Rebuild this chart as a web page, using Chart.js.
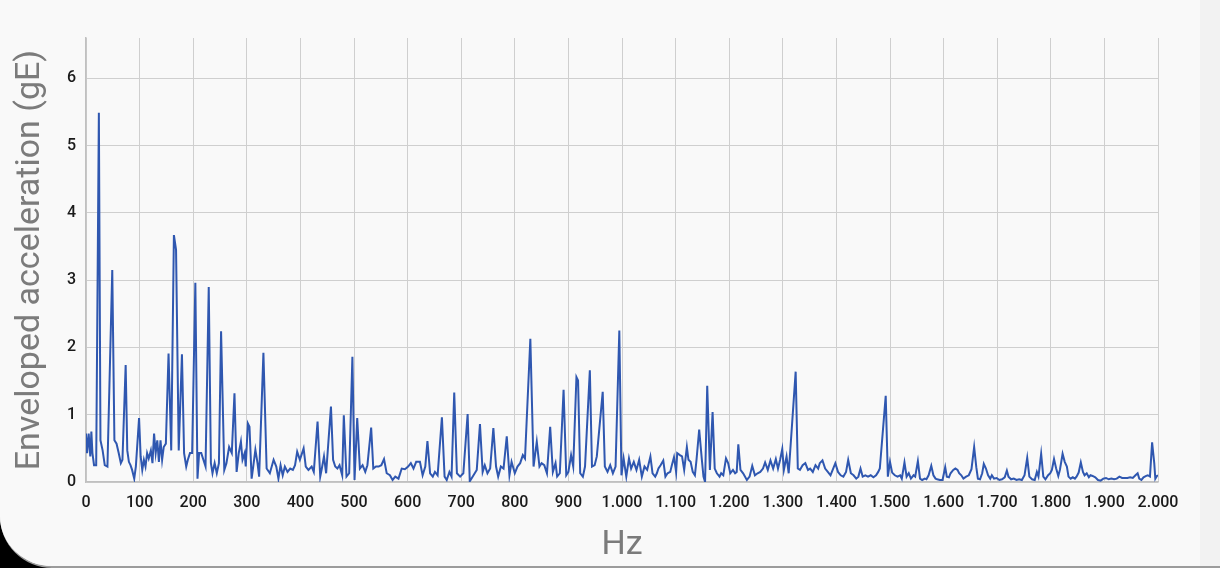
<!DOCTYPE html>
<html>
<head>
<meta charset="utf-8">
<script src="https://cdn.jsdelivr.net/npm/chart.js@4.4.0/dist/chart.umd.min.js"></script>
<style>
  html, body { margin: 0; padding: 0; background: #000; }
  #frame {
    position: relative; width: 1220px; height: 566px;
    background: #f2f2f2; border-bottom: 2px solid #9c9c9c;
    border-bottom-left-radius: 52px; overflow: hidden;
  }
  #card {
    position: absolute; left: 0; top: 0; width: 1200px; height: 566px;
    background: #f9f9f9;
  }
  #chart { position: absolute; left: 0; top: 0; }
</style>
</head>
<body>
<div id="frame">
  <div id="card"></div>
  <canvas id="chart" width="1220" height="566"></canvas>
</div>
<script>
// Envelope spectrum (Hz / gE)
const freqHz = [
  0, 2, 5, 8, 10, 12, 15, 19, 24, 27,
  31, 35, 40, 49, 53, 57, 61, 65, 68, 74,
  77, 80, 83, 86, 90, 93, 99, 102, 105, 108,
  111, 114, 117, 121, 124, 127, 130, 133, 136, 139,
  142, 145, 149, 154, 159, 164, 168, 173, 179, 183,
  187, 190, 194, 198, 204, 208, 211, 215, 219, 223,
  229, 233, 236, 240, 244, 248, 252, 258, 262, 267,
  272, 277, 281, 285, 289, 292, 296, 298, 302, 305,
  309, 312, 316, 320, 323, 331, 337, 343, 350, 355,
  359, 363, 367, 371, 376, 381, 386, 390, 394, 399,
  406, 410, 415, 421, 425, 432, 437, 440, 444, 448,
  457, 461, 465, 469, 473, 478, 481, 486, 491, 497,
  501, 506, 511, 516, 521, 525, 532, 536, 541, 546,
  551, 556, 561, 567, 572, 577, 583, 589, 595, 601,
  606, 611, 616, 623, 628, 633, 637, 642, 647, 651,
  656, 664, 669, 673, 678, 682, 687, 692, 698, 704,
  712, 716, 723, 729, 735, 740, 744, 749, 754, 760,
  765, 769, 774, 779, 785, 790, 794, 800, 805, 810,
  815, 819, 829, 835, 841, 846, 850, 855, 860, 866,
  871, 876, 879, 884, 891, 896, 900, 905, 909, 915,
  918, 922, 927, 931, 940, 944, 949, 953, 964, 968,
  973, 978, 983, 988, 995, 999, 1003, 1008, 1013, 1017,
  1022, 1027, 1032, 1037, 1042, 1047, 1053, 1057, 1062, 1065,
  1068, 1072, 1077, 1081, 1085, 1090, 1093, 1097, 1101, 1103,
  1108, 1112, 1116, 1121, 1124, 1128, 1132, 1136, 1139, 1144,
  1149, 1152, 1155, 1159, 1164, 1169, 1173, 1177, 1182, 1185,
  1189, 1194, 1198, 1202, 1207, 1211, 1214, 1217, 1221, 1226,
  1233, 1238, 1243, 1248, 1253, 1258, 1263, 1267, 1272, 1277,
  1282, 1287, 1291, 1295, 1299, 1302, 1307, 1311, 1324, 1328,
  1332, 1337, 1342, 1347, 1351, 1356, 1361, 1366, 1369, 1374,
  1379, 1384, 1389, 1394, 1398, 1403, 1408, 1413, 1418, 1422,
  1427, 1432, 1437, 1441, 1445, 1449, 1454, 1459, 1464, 1469,
  1474, 1478, 1481, 1492, 1496, 1500, 1504, 1509, 1514, 1519,
  1522, 1527, 1531, 1535, 1539, 1544, 1547, 1552, 1556, 1560,
  1565, 1568, 1572, 1577, 1581, 1585, 1588, 1593, 1598, 1603,
  1606, 1610, 1613, 1618, 1622, 1626, 1629, 1633, 1637, 1642,
  1647, 1652, 1657, 1661, 1664, 1668, 1672, 1675, 1679, 1683,
  1687, 1690, 1694, 1699, 1704, 1709, 1714, 1718, 1721, 1726,
  1731, 1736, 1741, 1746, 1751, 1756, 1760, 1765, 1770, 1774,
  1777, 1782, 1786, 1790, 1795, 1799, 1802, 1806, 1810, 1814,
  1817, 1822, 1826, 1830, 1833, 1837, 1841, 1845, 1848, 1852,
  1856, 1860, 1863, 1867, 1871, 1874, 1878, 1883, 1888, 1893,
  1898, 1903, 1908, 1913, 1918, 1923, 1928, 1933, 1938, 1943,
  1948, 1953, 1958, 1962, 1965, 1969, 1973, 1978, 1981, 1985,
  1989, 1993, 1995, 1998, 2000
];

const accelGE = [
  0.72, 0.43, 0.72, 0.38, 0.75, 0.43, 0.25, 0.25, 5.49, 0.62,
  0.47, 0.25, 0.23, 3.15, 0.62, 0.57, 0.43, 0.28, 0.33, 1.74,
  0.47, 0.30, 0.25, 0.18, 0.05, 0.23, 0.95, 0.38, 0.18, 0.33,
  0.23, 0.43, 0.35, 0.47, 0.28, 0.72, 0.43, 0.62, 0.30, 0.62,
  0.33, 0.52, 0.57, 1.91, 0.47, 3.67, 3.45, 0.47, 1.90, 0.43,
  0.23, 0.33, 0.43, 0.43, 2.96, 0.05, 0.43, 0.43, 0.33, 0.23,
  2.90, 0.28, 0.13, 0.28, 0.13, 0.28, 2.24, 0.18, 0.28, 0.52,
  0.43, 1.32, 0.15, 0.43, 0.60, 0.33, 0.43, 0.23, 0.87, 0.82,
  0.05, 0.23, 0.48, 0.28, 0.08, 1.92, 0.20, 0.13, 0.33, 0.23,
  0.05, 0.25, 0.10, 0.23, 0.15, 0.20, 0.18, 0.25, 0.45, 0.33,
  0.50, 0.23, 0.18, 0.23, 0.15, 0.90, 0.08, 0.20, 0.38, 0.13,
  1.12, 0.33, 0.23, 0.20, 0.25, 0.10, 0.99, 0.08, 0.13, 1.86,
  0.03, 0.95, 0.20, 0.25, 0.15, 0.25, 0.81, 0.20, 0.23, 0.23,
  0.25, 0.34, 0.13, 0.10, 0.03, 0.08, 0.05, 0.20, 0.19, 0.23,
  0.28, 0.20, 0.30, 0.30, 0.10, 0.23, 0.61, 0.13, 0.08, 0.15,
  0.10, 0.96, 0.08, 0.03, 0.15, 0.08, 1.33, 0.13, 0.08, 0.13,
  1.01, 0.01, 0.10, 0.18, 0.86, 0.15, 0.25, 0.13, 0.20, 0.80,
  0.23, 0.08, 0.23, 0.20, 0.68, 0.10, 0.30, 0.13, 0.23, 0.28,
  0.40, 0.35, 2.13, 0.23, 0.60, 0.23, 0.28, 0.25, 0.13, 0.82,
  0.15, 0.28, 0.08, 0.13, 1.37, 0.10, 0.15, 0.40, 0.23, 1.56,
  1.51, 0.13, 0.08, 0.23, 1.66, 0.23, 0.25, 0.38, 1.34, 0.23,
  0.15, 0.25, 0.13, 0.23, 2.25, 0.10, 0.35, 0.08, 0.35, 0.20,
  0.30, 0.18, 0.33, 0.08, 0.23, 0.18, 0.38, 0.13, 0.08, 0.13,
  0.20, 0.25, 0.32, 0.08, 0.13, 0.15, 0.25, 0.37, 0.15, 0.43,
  0.40, 0.38, 0.18, 0.52, 0.33, 0.30, 0.15, 0.10, 0.33, 0.78,
  0.33, 0.08, 0.00, 1.43, 0.18, 1.04, 0.20, 0.13, 0.08, 0.13,
  0.10, 0.35, 0.28, 0.13, 0.18, 0.13, 0.15, 0.56, 0.18, 0.13,
  0.03, 0.08, 0.24, 0.10, 0.13, 0.15, 0.20, 0.29, 0.18, 0.32,
  0.20, 0.34, 0.20, 0.33, 0.49, 0.18, 0.38, 0.13, 1.64, 0.20,
  0.18, 0.25, 0.28, 0.18, 0.20, 0.15, 0.25, 0.20, 0.28, 0.32,
  0.20, 0.15, 0.10, 0.20, 0.28, 0.15, 0.10, 0.08, 0.15, 0.33,
  0.13, 0.10, 0.05, 0.08, 0.20, 0.08, 0.10, 0.08, 0.10, 0.07,
  0.10, 0.15, 0.20, 1.28, 0.08, 0.30, 0.14, 0.10, 0.08, 0.10,
  0.05, 0.29, 0.08, 0.13, 0.05, 0.10, 0.08, 0.31, 0.05, 0.03,
  0.05, 0.04, 0.10, 0.24, 0.10, 0.05, 0.04, 0.03, 0.03, 0.22,
  0.08, 0.07, 0.13, 0.18, 0.20, 0.18, 0.13, 0.10, 0.05, 0.08,
  0.10, 0.19, 0.52, 0.22, 0.05, 0.04, 0.13, 0.27, 0.20, 0.10,
  0.05, 0.10, 0.05, 0.06, 0.03, 0.04, 0.07, 0.17, 0.08, 0.04,
  0.05, 0.03, 0.04, 0.03, 0.10, 0.36, 0.08, 0.04, 0.03, 0.15,
  0.08, 0.42, 0.08, 0.04, 0.10, 0.13, 0.18, 0.34, 0.20, 0.09,
  0.18, 0.42, 0.30, 0.23, 0.08, 0.05, 0.07, 0.05, 0.08, 0.14,
  0.29, 0.15, 0.10, 0.13, 0.07, 0.10, 0.09, 0.07, 0.03, 0.02,
  0.05, 0.06, 0.04, 0.05, 0.04, 0.05, 0.08, 0.06, 0.06, 0.06,
  0.07, 0.06, 0.10, 0.13, 0.05, 0.03, 0.07, 0.09, 0.10, 0.08,
  0.59, 0.28, 0.05, 0.09, 0.10
];

const xTitle = 'Hz';
const yTitle = 'Enveloped acceleration (gE)';

const tickFont = { family: 'Roboto', size: 16, weight: '500' };
const titleFont = { family: 'Roboto', size: 34, weight: '400' };

let ctx = document.getElementById('chart').getContext('2d');

window.spectrum = new Chart(ctx, {
    type: 'line',
    data: {
        datasets: [{
            data: freqHz.map((f, i) => ({ x: f, y: accelGE[i] })),
            borderColor: '#2f57b0',
            borderWidth: 2,
            pointRadius: 0,
            fill: false,
            tension: 0
        }]
    },
    options: {
        responsive: false,
        animation: false,
        locale: 'de-DE',
        layout: { padding: { top: 38, right: 62, bottom: 0, left: 0 } },
        plugins: { legend: { display: false }, tooltip: { enabled: false } },
        scales: {
            x: {
                type: 'linear',
                min: 0,
                max: 2000,
                ticks: { stepSize: 100, color: '#1a1a1a', font: tickFont, padding: 11, maxRotation: 0, autoSkip: false },
                grid: { color: '#cfcfcf', lineWidth: 1, drawTicks: false },
                border: { color: '#c0c0c0', width: 1.5 },
                title: { display: true, text: xTitle, color: '#7b7b7b', font: titleFont, padding: { top: 0, bottom: 0 } },
                afterFit: s => { s.height = 84; }
            },
            y: {
                min: 0,
                max: 6.6,
                ticks: { stepSize: 1, color: '#1a1a1a', font: tickFont, padding: 10 },
                // only the whole numbers get a label and a grid line
                afterBuildTicks: s => { s.ticks = s.ticks.filter(t => Number.isInteger(t.value)); },
                grid: { color: '#cfcfcf', lineWidth: 1, drawTicks: false },
                border: { color: '#c0c0c0', width: 1.5 },
                title: { display: true, text: yTitle, color: '#7b7b7b', font: titleFont, padding: { top: 10, bottom: 0 } },
                afterFit: s => { s.width = 86; }
            }
        }
    }
});
</script>
</body>
</html>
